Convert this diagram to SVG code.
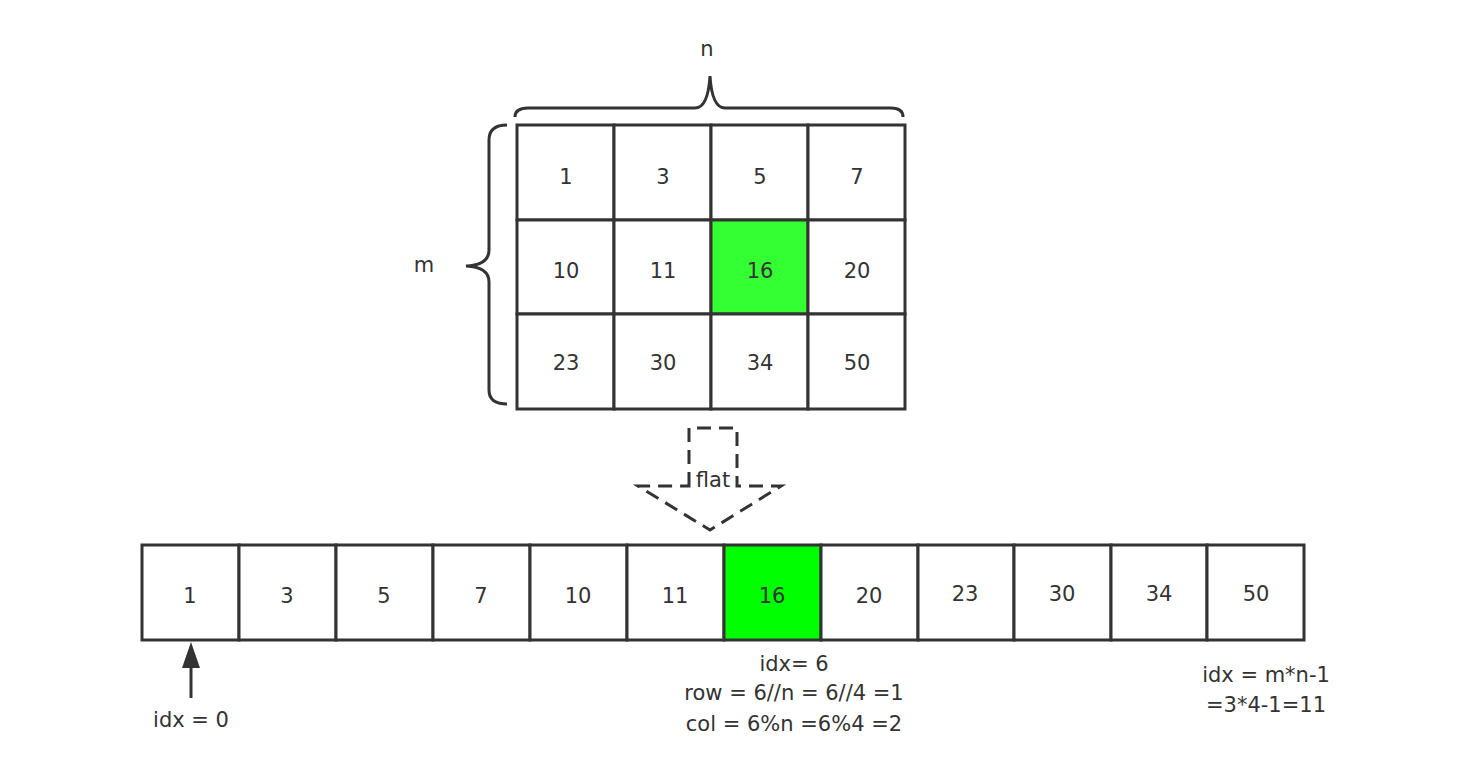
<svg xmlns="http://www.w3.org/2000/svg" width="1472" height="772" viewBox="0 0 1472 772">
<style>
.c{fill:#fff;stroke:#333;stroke-width:3}
.g1{fill:#33ff33}
.g2{fill:#00ff00}
text{font-family:"DejaVu Sans","Liberation Sans",sans-serif;font-size:21px;fill:#333;text-anchor:middle;dominant-baseline:central}
.br{fill:none;stroke:#333;stroke-width:3}
</style>
<rect width="1472" height="772" fill="#fff"/>
<g id="matrix">
<g id="m00"><rect class="c" x="517" y="125" width="97" height="95"/><text x="566" y="177">1</text></g>
<g id="m01"><rect class="c" x="614" y="125" width="97" height="95"/><text x="663" y="177">3</text></g>
<g id="m02"><rect class="c" x="711" y="125" width="97" height="95"/><text x="760" y="177">5</text></g>
<g id="m03"><rect class="c" x="808" y="125" width="97" height="95"/><text x="857" y="177">7</text></g>
<g id="m10"><rect class="c" x="517" y="220" width="97" height="94"/><text x="566" y="271">10</text></g>
<g id="m11"><rect class="c" x="614" y="220" width="97" height="94"/><text x="663" y="271">11</text></g>
<g id="m12"><rect class="c g1" x="711" y="220" width="97" height="94"/><text x="760" y="271">16</text></g>
<g id="m13"><rect class="c" x="808" y="220" width="97" height="94"/><text x="857" y="271">20</text></g>
<g id="m20"><rect class="c" x="517" y="314" width="97" height="95"/><text x="566" y="363">23</text></g>
<g id="m21"><rect class="c" x="614" y="314" width="97" height="95"/><text x="663" y="363">30</text></g>
<g id="m22"><rect class="c" x="711" y="314" width="97" height="95"/><text x="760" y="363">34</text></g>
<g id="m23"><rect class="c" x="808" y="314" width="97" height="95"/><text x="857" y="363">50</text></g>
</g>
<g id="brace-n">
<path class="br" d="M515,117 Q515,108 528,108 L695,108 Q708,108 710,76 Q712,108 725,108 L891,108 Q903,108 903,117"/>
<text x="707" y="49">n</text>
</g>
<g id="brace-m">
<path class="br" d="M507,125 Q489,125 489,140 L489,250 Q489,265 466,266 Q489,267 489,282 L489,390 Q489,404 507,404"/>
<text x="424" y="265">m</text>
</g>
<g id="flat">
<path fill="none" stroke="#333" stroke-width="3" stroke-dasharray="14,8" d="M689,486 L689,428 L737,428 L737,486 L781,486 L710,530 L638,486 Z"/>
<rect x="692" y="468" width="42" height="24" fill="#fff"/>
<text x="713" y="480">flat</text>
</g>
<g id="array">
<g id="a0"><rect class="c" x="142" y="545" width="97" height="95"/><text x="190" y="596">1</text></g>
<g id="a1"><rect class="c" x="239" y="545" width="97" height="95"/><text x="287" y="596">3</text></g>
<g id="a2"><rect class="c" x="336" y="545" width="97" height="95"/><text x="384" y="596">5</text></g>
<g id="a3"><rect class="c" x="433" y="545" width="97" height="95"/><text x="481" y="596">7</text></g>
<g id="a4"><rect class="c" x="530" y="545" width="97" height="95"/><text x="578" y="596">10</text></g>
<g id="a5"><rect class="c" x="627" y="545" width="97" height="95"/><text x="675" y="596">11</text></g>
<g id="a6"><rect class="c g2" x="724" y="545" width="97" height="95"/><text x="772" y="596">16</text></g>
<g id="a7"><rect class="c" x="821" y="545" width="97" height="95"/><text x="869" y="596">20</text></g>
<g id="a8"><rect class="c" x="918" y="545" width="96" height="95"/><text x="965" y="594">23</text></g>
<g id="a9"><rect class="c" x="1014" y="545" width="97" height="95"/><text x="1062" y="594">30</text></g>
<g id="a10"><rect class="c" x="1111" y="545" width="96" height="95"/><text x="1159" y="594">34</text></g>
<g id="a11"><rect class="c" x="1207" y="545" width="97" height="95"/><text x="1256" y="594">50</text></g>
</g>
<g id="connectors">
<line x1="191" y1="698" x2="191" y2="664" stroke="#333" stroke-width="3"/>
<path d="M191,642 L182,668 L200,668 Z" fill="#333"/>
</g>
<g id="labels">
<text x="191" y="720">idx = 0</text>
<text x="794" y="664">idx= 6</text>
<text x="794" y="693">row = 6//n = 6//4 =1</text>
<text x="794" y="724">col = 6%n =6%4 =2</text>
<text x="1266" y="675">idx = m*n-1</text>
<text x="1266" y="705">=3*4-1=11</text>
</g>
</svg>
